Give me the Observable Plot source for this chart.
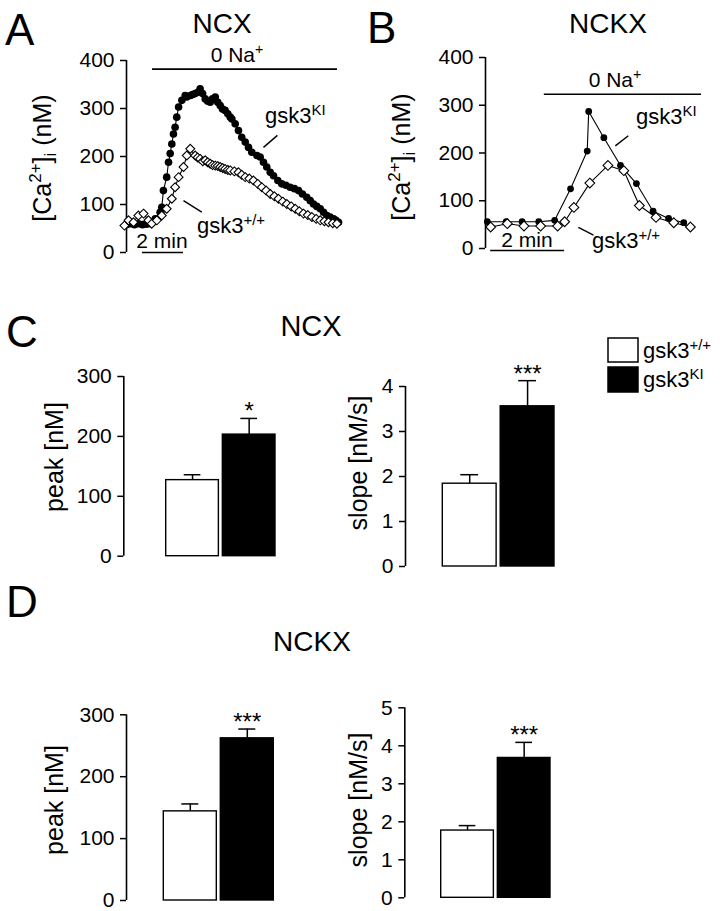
<!DOCTYPE html>
<html><head><meta charset="utf-8">
<script src="https://cdn.jsdelivr.net/npm/d3@7"></script>
<script src="https://cdn.jsdelivr.net/npm/@observablehq/plot@0.6"></script>
<style>
html,body{margin:0;padding:0;background:#fff;}
#fig{position:relative;width:726px;height:911px;background:#fff;overflow:hidden;}
</style></head>
<body><div id="fig"></div>
<script>
// ---------- data ----------
const groups = ["gsk3+/+", "gsk3KI"];
const barFills = ["white", "black"];

const ticksCa = [0, 100, 200, 300, 400];
const ticksPeak = [0, 100, 200, 300];
const ticksSlopeC = [0, 1, 2, 3, 4];
const ticksSlopeD = [0, 1, 2, 3, 4, 5];

// Panel A (NCX) traces: time (min), [Ca2+]i (nM)
const tA_KI = [0.05,0.24,0.44,0.63,0.83,1.02,1.22,1.45,1.69,1.77,1.85,2.01,2.10,2.18,2.26,2.34,2.42,2.50,2.59,2.75,2.91,2.99,3.16,3.27,3.40,3.53,3.64,3.76,3.89,4.01,4.13,4.24,4.38,4.50,4.62,4.73,4.86,4.99,5.11,5.19,5.35,5.51,5.67,5.84,6.00,6.16,6.41,6.57,6.73,6.89,7.06,7.22,7.43,7.62,7.82,8.03,8.24,8.44,8.63,8.84,9.01,9.17,9.33,9.50,9.66,9.82,9.98,10.15,10.26,10.39];
const caA_KI = [58,60,58,60,58,59,60,70,84,94,129,157,188,206,226,247,261,282,303,317,327,324,327,329,331,334,341,331,320,315,313,320,324,313,306,299,296,289,282,278,268,254,240,230,219,209,202,199,188,178,167,160,150,143,140,136,133,129,122,115,108,101,96,91,84,77,74,70,67,63];
const tA_WT = [-0.05,0.15,0.39,0.63,0.88,1.12,1.28,1.53,1.77,2.01,2.26,2.42,2.59,2.83,2.99,3.16,3.40,3.52,3.64,3.77,3.89,4.01,4.13,4.25,4.38,4.50,4.62,4.74,4.86,4.99,5.11,5.31,5.51,5.67,5.84,6.04,6.24,6.45,6.65,6.86,7.06,7.26,7.46,7.67,7.87,8.08,8.28,8.48,8.68,8.89,9.09,9.30,9.50,9.70,9.90,10.11,10.31];
const caA_WT = [56,67,63,77,81,67,60,67,77,91,112,136,157,178,202,216,202,198,195,190,192,188,185,182,181,180,178,176,174,172,171,169,167,162,157,154,150,143,136,129,122,117,112,106,101,96,91,86,81,78,74,70,67,65,63,61,60];

// Panel B (NCKX) traces
const tB_KI = [0.05,0.56,0.99,1.44,1.87,2.30,2.75,2.79,3.20,3.65,4.08,4.53,4.95,5.36];
const caB_KI = [56,56,56,56,59,125,204,287,232,174,136,78,63,54];
const tB_WT = [0.14,0.59,1.04,1.49,1.95,2.14,2.39,2.82,3.31,3.74,4.16,4.61,5.09,5.54];
const caB_WT = [45,52,47,47,47,56,86,137,174,163,90,65,54,45];

// Annotation bars (time in min, level in nM)
const naBarA = [1.32, 10.34]; const naLevelA = [382];
const naBarB = [1.59, 5.84]; const naLevelB = [323];
const minBarA = [0.83, 2.83];
const minBarB = [0.14, 2.14];
const leadersA = [{x1: 6.73, y1: 219, x2: 7.41, y2: 244}, {x1: 2.83, y1: 108, x2: 3.72, y2: 84}];
const leadersB = [{x1: 3.51, y1: 215, x2: 3.86, y2: 236}, {x1: 2.51, y1: 44, x2: 2.92, y2: 28}];

// Bar charts: mean and SEM
const peakNCX = [127, 203];   const peakNCXErr = [9, 27];    const sigPeakNCX = ["", "*"];
const slopeNCX = [1.84, 3.56]; const slopeNCXErr = [0.20, 0.57]; const sigSlopeNCX = ["", "***"];
const peakNCKX = [144, 262];  const peakNCKXErr = [12, 15];  const sigPeakNCKX = ["", "***"];
const slopeNCKX = [1.77, 3.68]; const slopeNCKXErr = [0.13, 0.41]; const sigSlopeNCKX = ["", "***"];

// ---------- rendering ----------
const FONT = '"Liberation Sans", Arial, Helvetica, sans-serif';
const fig = document.getElementById("fig");
const TICK_FS = 21;
const fmt = d3.format("d");

function place(svg, left, top) {
  svg.style.position = "absolute";
  svg.style.left = left + "px";
  svg.style.top = top + "px";
  fig.appendChild(svg);
}
const baseStyle = {fontFamily: FONT, color: "black", background: "transparent", overflow: "visible"};
const zip = (ts, vs) => ts.map((t, i) => ({t, ca: vs[i]}));

function tracePanel(o) {
  const ki = zip(o.tKI, o.cKI), wt = zip(o.tWT, o.cWT);
  return Plot.plot({
    width: o.width, height: o.height,
    marginLeft: o.mL, marginRight: o.mR, marginTop: o.mT, marginBottom: o.mB,
    style: baseStyle,
    x: {domain: o.xDomain, axis: null},
    y: {domain: [0, 400]},
    marks: [
      Plot.axisY({ticks: ticksCa, tickFormat: fmt, tickSize: 6, tickPadding: 6, fontSize: TICK_FS, label: null, strokeWidth: 1.5}),
      Plot.ruleX([o.xDomain[0]], {y1: 0, y2: 400, strokeWidth: 1.6}),
      Plot.ruleY(o.naLevel, {x1: o.naBar[0], x2: o.naBar[1], strokeWidth: 1.6}),
      Plot.ruleY([0], {x1: o.minBar[0], x2: o.minBar[1], strokeWidth: 1.6, dy: o.minDy}),
      Plot.link(o.leaders, {x1: "x1", y1: "y1", x2: "x2", y2: "y2", strokeWidth: 1.4}),
      Plot.line(ki, {x: "t", y: "ca", strokeWidth: 1.1}),
      Plot.dot(ki, {x: "t", y: "ca", r: o.rKI, fill: "black"}),
      Plot.line(wt, {x: "t", y: "ca", strokeWidth: 1.1}),
      Plot.dot(wt, {x: "t", y: "ca", r: o.rWT, symbol: "diamond2", fill: "white", stroke: "black", strokeWidth: 1.1})
    ]
  });
}

place(tracePanel({width: 360, height: 270, mL: 126, mR: 15, mT: 60, mB: 18,
  xDomain: [0.05, 10.73], tKI: tA_KI, cKI: caA_KI, tWT: tA_WT, cWT: caA_WT,
  naBar: naBarA, naLevel: naLevelA, minBar: minBarA, minDy: 0, leaders: leadersA, rKI: 3.8, rWT: 4.0}), 0, 0);

place(tracePanel({width: 366, height: 270, mL: 125, mR: 15, mT: 57, mB: 22,
  xDomain: [0, 6.11], tKI: tB_KI, cKI: caB_KI, tWT: tB_WT, cWT: caB_WT,
  naBar: naBarB, naLevel: naLevelB, minBar: minBarB, minDy: 2, leaders: leadersB, rKI: 3.4, rWT: 4.4}), 360, 0);

const PAD = 0.07;
function barPanel(o) {
  const data = groups.map((g, i) => ({g, v: o.values[i], e: o.errs[i], s: o.sig[i]}));
  const [r0, r1] = o.xRange;
  const step = (r1 - r0) / (groups.length - PAD);
  const axisDx = o.mL - (r0 + step * (1 - PAD) / 2);
  return Plot.plot({
    width: o.width, height: o.height,
    marginLeft: o.mL, marginRight: 10, marginTop: o.mT, marginBottom: o.mB,
    style: baseStyle,
    x: {domain: groups, range: o.xRange, paddingInner: PAD, paddingOuter: 0, round: false, axis: null},
    y: {domain: [0, o.yMax]},
    color: {domain: groups, range: barFills},
    marks: [
      Plot.axisY({ticks: o.ticks, tickFormat: fmt, tickSize: 6, tickPadding: 6, fontSize: TICK_FS, label: null, strokeWidth: 1.5}),
      Plot.ruleX(groups.slice(0, 1), {x: d => d, y1: 0, y2: o.yMax, dx: axisDx, strokeWidth: 1.6}),
      Plot.ruleX(data, {x: "g", y1: "v", y2: d => d.v + d.e, strokeWidth: 1.5}),
      Plot.tickY(data, {x: "g", y: d => d.v + d.e, insetLeft: 18, insetRight: 18, strokeWidth: 1.5}),
      Plot.barY(data, {x: "g", y: "v", fill: "g", stroke: "black", strokeWidth: 1.4}),
      Plot.text(data, {x: "g", y: d => d.v + d.e, text: "s", lineAnchor: "bottom", dy: 1, fontSize: 24})
    ]
  });
}

place(barPanel({width: 300, height: 290, mL: 123.3, mT: 86, mB: 24.3, xRange: [165.7, 275],
  values: peakNCX, errs: peakNCXErr, sig: sigPeakNCX, ticks: ticksPeak, yMax: 300}), 0, 290);
place(barPanel({width: 300, height: 290, mL: 105, mT: 96, mB: 14, xRange: [142.3, 254],
  values: slopeNCX, errs: slopeNCXErr, sig: sigSlopeNCX, ticks: ticksSlopeC, yMax: 4}), 300, 290);
place(barPanel({width: 300, height: 311, mL: 126, mT: 114.3, mB: 11, xRange: [163.3, 273.3],
  values: peakNCKX, errs: peakNCKXErr, sig: sigPeakNCKX, ticks: ticksPeak, yMax: 300}), 0, 600);
place(barPanel({width: 300, height: 311, mL: 104.3, mT: 107.3, mB: 13.7, xRange: [140.7, 250],
  values: slopeNCKX, errs: slopeNCKXErr, sig: sigSlopeNCKX, ticks: ticksSlopeD, yMax: 5}), 300, 600);

// ---------- text overlay (titles, labels, legend) ----------
const ov = d3.create("svg").attr("width", 726).attr("height", 911)
  .style("position", "absolute").style("left", "0px").style("top", "0px")
  .attr("font-family", FONT).attr("fill", "black");

function addText(x, y, parts, size, anchor = "start", rotate = false) {
  const g = ov.append("g").attr("transform", rotate ? `translate(${x},${y}) rotate(-90)` : `translate(${x},${y})`);
  const t = g.append("text").attr("font-size", size).attr("text-anchor", anchor);
  let shift = 0;
  for (const [str, kind] of parts) {
    const sp = t.append("tspan").text(str);
    let target = 0;
    if (kind === "sup") { sp.attr("font-size", size * 0.68); target = -size * 0.38; }
    else if (kind === "sub") { sp.attr("font-size", size * 0.68); target = size * 0.2; }
    sp.attr("dy", target - shift);
    shift = target;
  }
}
// panel letters
addText(5, 45, [["A"]], 44);
addText(367, 43, [["B"]], 44);
addText(6, 347, [["C"]], 44);
addText(6, 617, [["D"]], 44);
// titles
addText(222, 33, [["NCX"]], 28, "middle");
addText(608, 33, [["NCKX"]], 28, "middle");
addText(311, 336, [["NCX"]], 29, "middle");
addText(312, 651, [["NCKX"]], 28, "middle");
// y labels (rotated)
const YL = 25;
addText(44 + 0.26 * YL, 158, [["[Ca"], ["2+", "sup"], ["]"], ["i", "sub"], [" (nM)"]], YL, "middle", true);
addText(403 + 0.26 * YL, 157, [["[Ca"], ["2+", "sup"], ["]"], ["i", "sub"], [" (nM)"]], YL, "middle", true);
addText(56 + 0.26 * YL, 457, [["peak [nM]"]], YL, "middle", true);
addText(360 + 0.26 * YL, 463, [["slope [nM/s]"]], YL, "middle", true);
addText(56 + 0.26 * YL, 800, [["peak [nM]"]], YL, "middle", true);
addText(360 + 0.26 * YL, 800, [["slope [nM/s]"]], YL, "middle", true);
// trace annotations
addText(237, 62, [["0 Na"], ["+", "sup"]], 21, "middle");
addText(615, 87, [["0 Na"], ["+", "sup"]], 21, "middle");
addText(162, 248, [["2 min"]], 21, "middle");
addText(527, 247, [["2 min"]], 21, "middle");
addText(265, 123, [["gsk3"], ["KI", "sup"]], 22);
addText(197, 233, [["gsk3"], ["+/+", "sup"]], 22);
addText(636, 124, [["gsk3"], ["KI", "sup"]], 22);
addText(592, 248, [["gsk3"], ["+/+", "sup"]], 22);
// legend
ov.append("rect").attr("x", 608).attr("y", 338).attr("width", 30).attr("height", 24).attr("fill", barFills[0]).attr("stroke", "black").attr("stroke-width", 1.5);
ov.append("rect").attr("x", 608).attr("y", 367).attr("width", 30).attr("height", 25).attr("fill", barFills[1]).attr("stroke", "black").attr("stroke-width", 1.5);
addText(643, 358, [["gsk3"], ["+/+", "sup"]], 22);
addText(643, 387, [["gsk3"], ["KI", "sup"]], 22);

fig.appendChild(ov.node());
</script>
</body></html>
